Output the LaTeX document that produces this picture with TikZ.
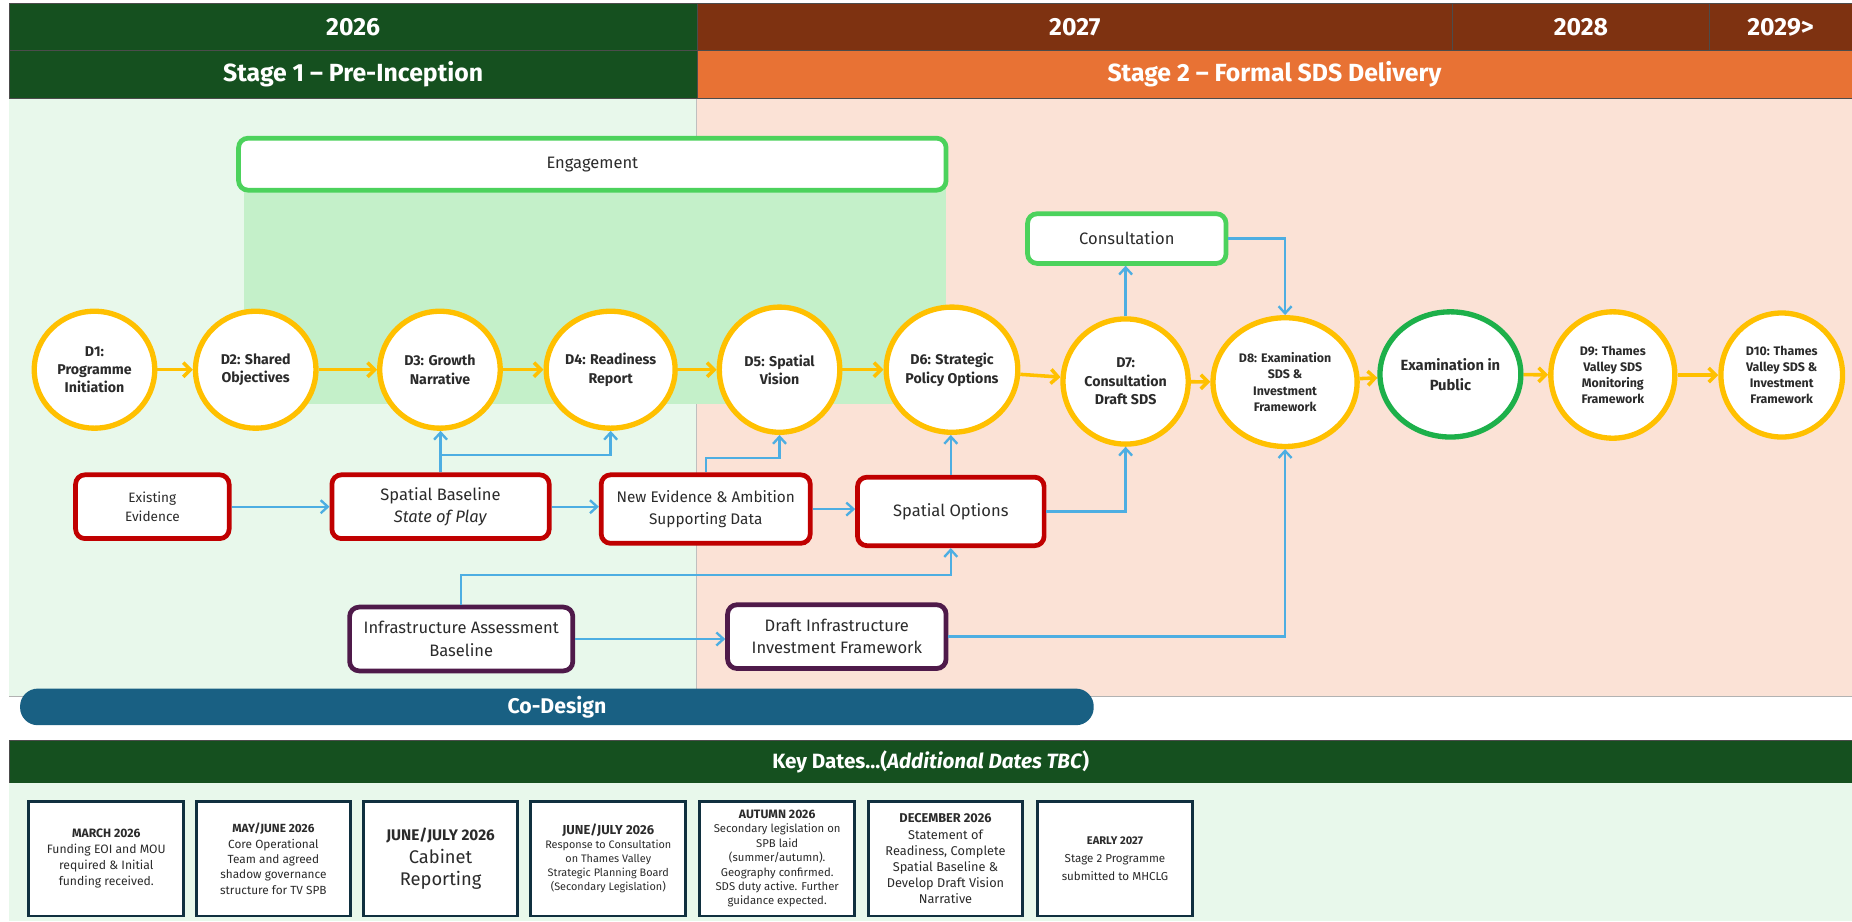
\documentclass[tikz,border=0pt]{standalone}
\usepackage{fontspec}
\setmainfont{Fira Sans}
\usetikzlibrary{shapes.geometric,arrows.meta}

\definecolor{hdgreen}{HTML}{15501F}
\definecolor{hdbrown}{HTML}{7E3211}
\definecolor{hdorange}{HTML}{E87234}
\definecolor{bgleft}{HTML}{E8F8EB}
\definecolor{bgright}{HTML}{FBE2D6}
\definecolor{engfill}{HTML}{C4F0C9}
\definecolor{engline}{HTML}{4CD25C}
\definecolor{dyellow}{HTML}{FFC000}
\definecolor{eipgreen}{HTML}{1DB04A}
\definecolor{evred}{HTML}{C00000}
\definecolor{infpurple}{HTML}{4F1A4A}
\definecolor{linkblue}{HTML}{4DAEE2}
\definecolor{codblue}{HTML}{196083}
\definecolor{datenavy}{HTML}{10303F}
\definecolor{txtgrey}{HTML}{2B2B2B}

\tikzset{
  hdcell/.style={draw=black!70, line width=0.6pt, text=white, minimum height=40pt, inner sep=0pt, font=\fontsize{21}{24}\selectfont\bfseries},
  deliv/.style={ellipse, draw=dyellow, line width=4.5pt, fill=white, minimum width=102pt, minimum height=99pt, inner sep=0pt, align=center, text=txtgrey, font=\fontsize{12}{15.5}\selectfont\bfseries},
  smalldeliv/.style={deliv, font=\fontsize{10.5}{13.7}\selectfont\bfseries},
  evbox/.style={draw=evred, line width=4pt, rounded corners=8pt, fill=white, align=center, inner sep=2pt, text=txtgrey, font=\fontsize{13.5}{18.5}\selectfont},
  infbox/.style={evbox, draw=infpurple, font=\fontsize{14}{19}\selectfont},
  engbox/.style={draw=engline, line width=4pt, rounded corners=8pt, fill=white, align=center, text=txtgrey, font=\fontsize{14}{16}\selectfont},
  datebox/.style={draw=datenavy, line width=2.5pt, fill=white, minimum width=131pt, minimum height=97pt, inner sep=1pt, align=center, text=txtgrey},
  yarrow/.style={draw=dyellow, line width=3pt, -{Straight Barb[length=6pt,width=12pt]}},
  barrow/.style={draw=linkblue, line width=2pt, -{Straight Barb[length=6pt,width=11pt]}}
}

\begin{document}
\begin{tikzpicture}[x=1pt,y=-1pt]

        \useasboundingbox (0,0) rectangle (1568,780);

        % timeline header
        \node[hdcell, fill=hdgreen, minimum width=582pt] (y26) at (299,23) {2026};
        \node[hdcell, fill=hdbrown, minimum width=640pt] (y27) at (910,23) {2027};
        \node[hdcell, fill=hdbrown, minimum width=217pt] (y28) at (1338.5,23) {2028};
        \node[hdcell, fill=hdbrown, minimum width=121pt] (y29) at (1507.5,23) {2029>};
        \node[hdcell, fill=hdgreen, minimum width=582pt] (st1) at (299,63) {Stage 1 -- Pre-Inception};
        \node[hdcell, fill=hdorange, minimum width=978pt] (st2) at (1079,63) {Stage 2 -- Formal SDS Delivery};

        \fill[bgleft] (8,83.5) rectangle (590,590);
        \fill[bgright] (590,83.5) rectangle (1568,590);
        \draw[black!25, line width=1pt] (590,83.5) -- (590,590);
        \draw[black!30, line width=1pt] (8,590) -- (1568,590);

        \fill[engfill] (207,150) rectangle (801,342);
        \node[engbox, minimum width=599pt, minimum height=44pt] (eng) at (501.5,139) {Engagement};
        \node[engbox, minimum width=168pt, minimum height=42pt] (cons) at (954,202) {Consultation};

        % deliverables
        \node[deliv] (d1) at (80,313) {D1:\\Programme\\Initiation};
        \node[deliv] (d2) at (216.5,313) {D2: Shared\\Objectives};
        \node[deliv] (d3) at (372.5,313) {D3: Growth\\Narrative};
        \node[deliv] (d4) at (517,313) {D4: Readiness\\Report};
        \node[deliv, minimum height=106pt] (d5) at (660,313) {D5: Spatial\\Vision};
        \node[deliv, minimum height=106pt, minimum width=106pt] (d6) at (806,313) {D6: Strategic\\Policy Options};
        \node[deliv, minimum height=106pt, minimum width=106pt] (d7) at (953,323) {D7:\\Consultation\\Draft SDS};
        \node[smalldeliv, minimum height=109pt, minimum width=122pt] (d8) at (1088,323.5) {D8: Examination\\SDS \&\\Investment\\Framework};
        \node[deliv, draw=eipgreen, minimum height=106pt, minimum width=106pt, font=\fontsize{12.5}{17}\selectfont\bfseries] (eip) at (1228,317) {Examination in\\Public};
        \node[smalldeliv, minimum height=107pt, minimum width=105pt] (d9) at (1365.5,317.5) {D9: Thames\\Valley SDS\\Monitoring\\Framework};
        \node[smalldeliv, minimum height=105pt, minimum width=103pt] (d10) at (1508.5,317.5) {D10: Thames\\Valley SDS \&\\Investment\\Framework};

        \draw[yarrow] (d1) -- (d2);
        \draw[yarrow] (d2) -- (d3);
        \draw[yarrow] (d3) -- (d4);
        \draw[yarrow] (d4) -- (d5);
        \draw[yarrow] (d5) -- (d6);
        \draw[yarrow] (d6) -- (d7);
        \draw[yarrow] (d7) -- (d8);
        \draw[yarrow] (d8) -- (eip);
        \draw[yarrow] (eip) -- (d9);
        \draw[yarrow] (d9) -- (d10);

        % evidence
        \node[evbox, minimum width=130pt, minimum height=54pt, font=\fontsize{11.5}{16}\selectfont] (ee) at (129,429) {Existing\\Evidence};
        \node[evbox, minimum width=184pt, minimum height=54pt, font=\fontsize{14}{19}\selectfont] (sb) at (373,429) {Spatial Baseline\\\textit{State of Play}};
        \node[evbox, minimum width=177pt, minimum height=58pt, font=\fontsize{13}{19}\selectfont] (ne) at (597.5,431) {New Evidence \& Ambition\\Supporting Data};
        \node[evbox, minimum width=158pt, minimum height=58pt, font=\fontsize{14}{19}\selectfont] (so) at (805,433) {Spatial Options};

        \node[infbox, minimum width=189pt, minimum height=54pt] (iab) at (390.5,541) {Infrastructure Assessment\\Baseline};
        \node[infbox, minimum width=185pt, minimum height=54pt] (dif) at (708.5,539) {Draft Infrastructure\\Investment Framework};

        \draw[barrow] (ee) -- (sb);
        \draw[barrow] (sb.east) -- (sb.east -| ne.west);
        \draw[barrow] (ne.east) -- (ne.east -| so.west);
        \draw[barrow] (sb.north) -- (sb.north |- d3.south);
        \draw[barrow] (sb.north) -- ++(0,-15) -| (d4.south);
        \draw[barrow] (ne.north) -- ++(0,-12) -| (d5.south);
        \draw[barrow] (so.north) -- (so.north |- d6.south);
        \draw[barrow] (so.east) -| (d7.south);
        \draw[barrow] (d7.north) -- (d7.north |- cons.south);
        \draw[barrow] (cons.east) -| (d8.north);
        \draw[barrow] (iab.north) -- ++(0,-25) -| (so.south);
        \draw[barrow] (iab.east) -- (iab.east -| dif.west);
        \draw[barrow] (dif.east) -| (d8.south);

        \node[fill=codblue, rounded corners=15pt, minimum width=909pt, minimum height=31pt, text=white, font=\fontsize{18}{20}\selectfont\bfseries] (codes) at (471.5,598.5) {Co-Design};

        % key dates
        \node[hdcell, fill=hdgreen, minimum width=1560pt, minimum height=36pt, font=\fontsize{17.5}{20}\selectfont\bfseries] (keyd) at (788,645) {Key Dates...(\textit{Additional Dates TBC})};
        \fill[bgleft] (8,663) rectangle (1568,780);

        \node[datebox, font=\fontsize{10.3}{13.6}\selectfont] (kd1) at (90,727) {\textbf{MARCH 2026}\\Funding EOI and MOU\\required \& Initial\\funding received.};
        \node[datebox, font=\fontsize{10}{13}\selectfont] (kd2) at (231.5,727) {\textbf{MAY/JUNE 2026}\\Core Operational\\Team and agreed\\shadow governance\\structure for TV SPB};
        \node[datebox, font=\fontsize{15.5}{19}\selectfont] (kd3) at (373,727) {\textbf{\fontsize{13}{19}\selectfont JUNE/JULY 2026}\\Cabinet\\Reporting};
        \node[datebox, font=\fontsize{9.2}{11.8}\selectfont] (kd4) at (515,727) {\textbf{\fontsize{11}{13}\selectfont JUNE/JULY 2026}\\Response to Consultation\\on Thames Valley\\Strategic Planning Board\\(Secondary Legislation)};
        \node[datebox, font=\fontsize{9.6}{12.2}\selectfont] (kd5) at (658,727) {\textbf{\fontsize{10.3}{12.2}\selectfont AUTUMN 2026}\\Secondary legislation on\\SPB laid\\(summer/autumn).\\Geography confirmed.\\SDS duty active. Further\\guidance expected.};
        \node[datebox, font=\fontsize{10.8}{13.6}\selectfont] (kd6) at (800.5,727) {\textbf{DECEMBER 2026}\\Statement of\\Readiness, Complete\\Spatial Baseline \&\\Develop Draft Vision\\Narrative};
        \node[datebox, font=\fontsize{9.8}{15.5}\selectfont] (kd7) at (944,727) {\textbf{\fontsize{9.4}{15.5}\selectfont EARLY 2027}\\Stage 2 Programme\\submitted to MHCLG};

\end{tikzpicture}
\end{document}
